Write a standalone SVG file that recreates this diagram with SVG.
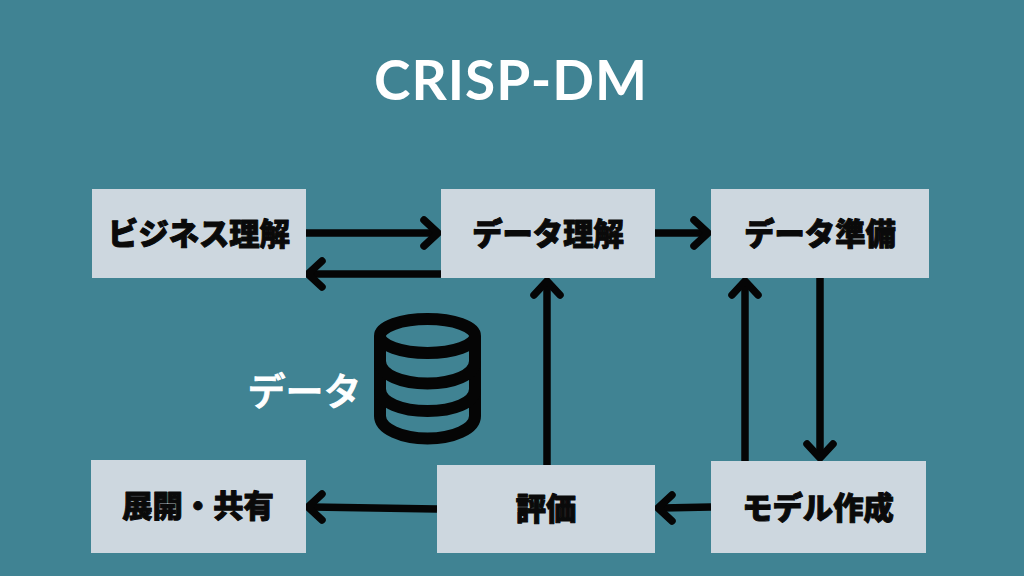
<svg xmlns="http://www.w3.org/2000/svg" width="1024" height="576" viewBox="0 0 1024 576">
<style>
.box{fill:#cdd7df}
.lbl{font-family:"Noto Sans CJK JP","Noto Sans",sans-serif;font-weight:900;font-size:30.300px;fill:#0a0a0a;text-anchor:middle;stroke:#0a0a0a;stroke-width:1;stroke-linejoin:round;paint-order:stroke}
.wire{fill:none;stroke:#050505;stroke-width:7.5}
.head{fill:none;stroke:#050505;stroke-width:7.5;stroke-linecap:round;stroke-linejoin:round}
</style>
<rect width="1024" height="576" fill="#408393"/>
<text x="511" y="100" font-family="Lato,'Open Sans',sans-serif" font-weight="700" font-size="55" letter-spacing="1" fill="#fff" text-anchor="middle">CRISP-DM</text>

<g id="connectors">
<path class="wire" d="M306 233H434"/><path class="head" d="M424 220L438 233L424 246"/>
<path class="wire" d="M441 274H312"/><path class="head" d="M322 261L308 274L322 287"/>
<path class="wire" d="M655 233H704"/><path class="head" d="M694 220L708 233L694 246"/>
<path class="wire" d="M820 278V454"/><path class="head" d="M807 444L820 458L833 444"/>
<path class="wire" d="M745 461V285"/><path class="head" d="M732 295L745 281L758 295"/>
<path class="wire" d="M547 465V285"/><path class="head" d="M534 295L547 281L560 295"/>
<path class="wire" d="M711 507L662 508"/><path class="head" d="M672 495L658 508L672 521"/>
<path class="wire" d="M437 509L312 507"/><path class="head" d="M322 494L308 507L322 520"/>
</g>

<g id="node-business"><rect class="box" x="92" y="189" width="214" height="89"/><text class="lbl" x="199" y="245">ビジネス理解</text></g>
<g id="node-understanding"><rect class="box" x="441" y="189" width="214" height="89"/><text class="lbl" x="548" y="245">データ理解</text></g>
<g id="node-preparation"><rect class="box" x="711" y="189" width="218" height="89"/><text class="lbl" x="820" y="245">データ準備</text></g>
<g id="node-modeling"><rect class="box" x="711" y="461" width="215" height="92"/><text class="lbl" x="818" y="519">モデル作成</text></g>
<g id="node-evaluation"><rect class="box" x="437" y="465" width="218" height="88"/><text class="lbl" x="546" y="520">評価</text></g>
<g id="node-deployment"><rect class="box" x="91" y="460" width="215" height="93"/><text class="lbl" x="198" y="517">展開・共有</text></g>

<g id="data-store">
<text x="304.500" y="405" font-family="'Noto Sans CJK JP',sans-serif" font-weight="500" font-size="38" fill="#fff" stroke="#fff" stroke-width="1" text-anchor="middle">データ</text>
<g fill="none" stroke="#050505" stroke-width="12">
<ellipse cx="427.500" cy="336" rx="47.500" ry="17"/>
<path d="M380 336V416C380 429 402 438.500 427.500 438.500S475 429 475 416V336"/>
<path d="M380 361C380 375 402 383.500 427.500 383.500S475 375 475 361"/>
<path d="M380 389C380 403 402 411 427.500 411S475 403 475 389"/>
</g>
</g>
</svg>
